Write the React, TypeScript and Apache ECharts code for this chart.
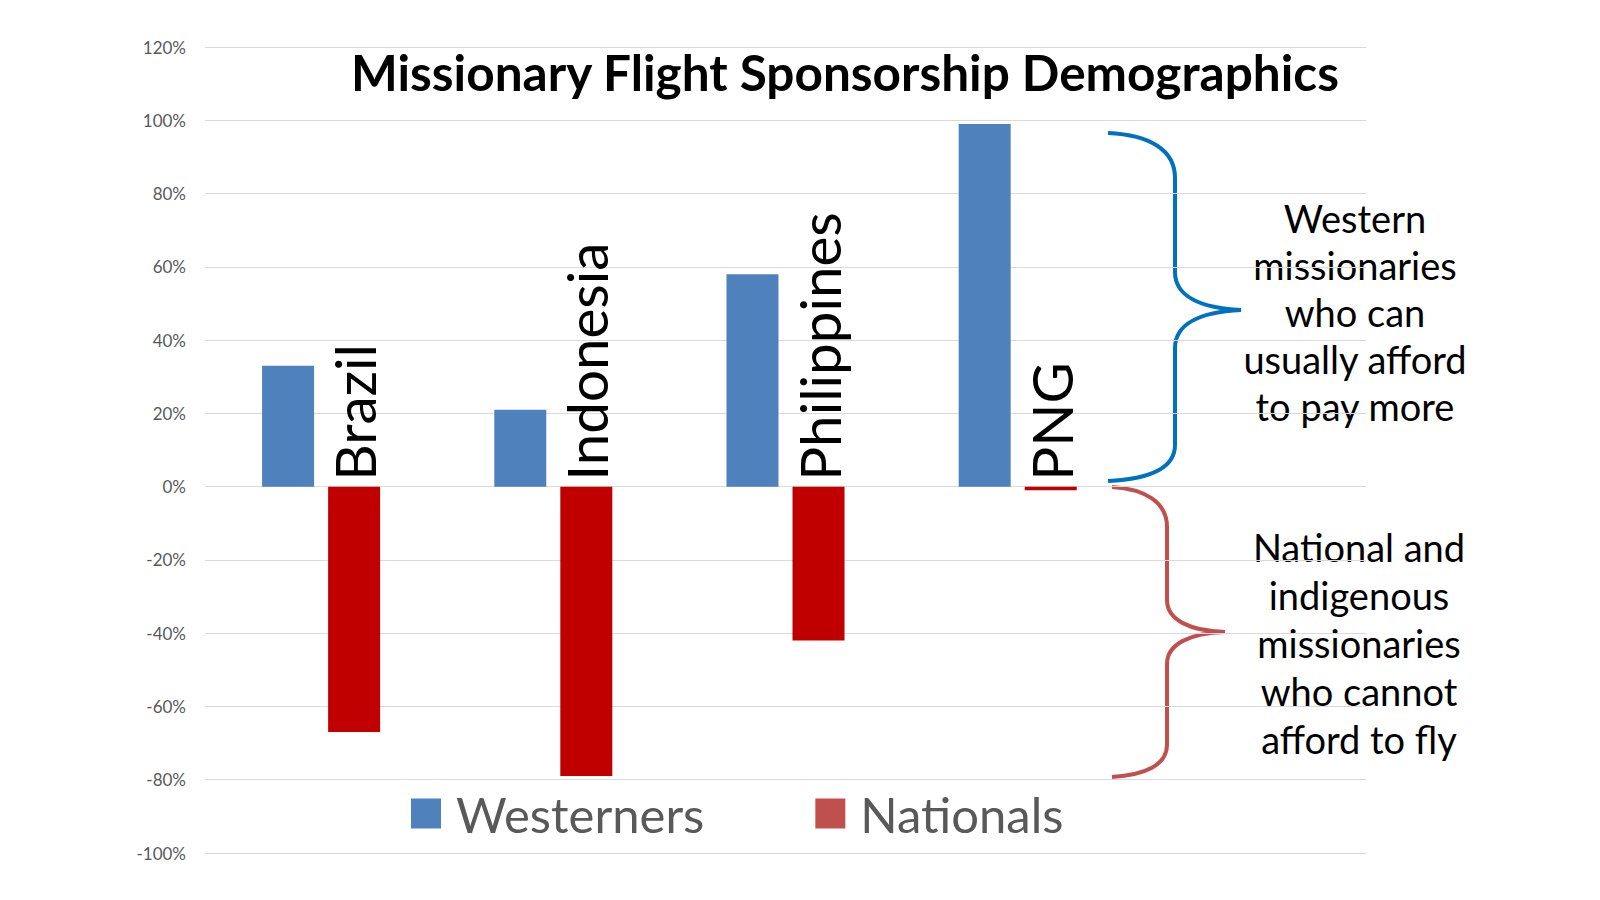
import React, { useEffect, useRef } from "react";
import * as echarts from "echarts";

const categories = ["Brazil", "Indonesia", "Philippines", "PNG", ""];
const westerners = [33, 21, 58, 99];
const nationals = [-67, -79, -42, -1];
const yTicks = { min: -100, max: 120, interval: 20 };
const titleText = "Missionary Flight Sponsorship Demographics";
const westernNote = ["Western", "missionaries", "who can", "usually afford", "to pay more"];
const nationalNote = ["National and", "indigenous", "missionaries", "who cannot", "afford to fly"];

const BLUE_BRACE =
  "M1108,133 C1150,135 1175,150 1175,178 L1175,272 C1175,296 1200,308 1241,310 C1200,312 1175,324 1175,348 L1175,445 C1175,468 1150,479 1108,481";
const RED_BRACE =
  "M1112,487 C1145,489 1167,502 1167,527 L1167,600 C1167,620 1190,631 1225,632 C1190,633 1167,644 1167,664 L1167,745 C1167,765 1145,775 1112,777";

let registered = false;
function registerShapes() {
  if (registered) return;
  echarts.graphic.registerShape("braceBlue", echarts.graphic.extendPath(BLUE_BRACE, {}));
  echarts.graphic.registerShape("braceRed", echarts.graphic.extendPath(RED_BRACE, {}));
  registered = true;
}

const FONT = "Lato";

export default function App() {
  const ref = useRef<HTMLDivElement>(null);
  useEffect(() => {
    document.body.style.margin = "0";
    registerShapes();
    const chart = echarts.init(ref.current!, null, { renderer: "svg" });
    chart.setOption({
      animation: false,
      backgroundColor: "#ffffff",
      title: {
        text: titleText,
        left: 840,
        top: 42,
        textAlign: "center",
        textStyle: { fontFamily: FONT, fontWeight: "bold", fontSize: 49.5, color: "#000000" },
      },
      legend: {
        left: 411,
        top: 789,
        padding: 0,
        itemWidth: 30,
        itemHeight: 30,
        itemGap: 111,
        icon: "rect",
        textStyle: { fontFamily: FONT, fontSize: 49, color: "#595959", padding: [0, 0, 0, 10] },
        data: [
          { name: "Westerners", itemStyle: { color: "#4f81bd" } },
          { name: "Nationals", itemStyle: { color: "#c0504d" } },
        ],
      },
      grid: { left: 205, right: 234, top: 47, bottom: 47, containLabel: false },
      xAxis: {
        type: "category",
        data: categories,
        axisLine: { show: false },
        axisTick: { show: false },
        axisLabel: { show: false },
      },
      yAxis: {
        type: "value",
        min: yTicks.min,
        max: yTicks.max,
        interval: yTicks.interval,
        axisLine: { show: false },
        axisTick: { show: false },
        axisLabel: {
          formatter: "{value}%",
          color: "#595959",
          fontSize: 17,
          fontFamily: FONT,
          margin: 19,
        },
        splitLine: { lineStyle: { color: "#d9d9d9", width: 1 } },
      },
      series: [
        {
          name: "Westerners",
          type: "bar",
          data: westerners,
          barWidth: 52,
          barGap: "27%",
          itemStyle: { color: "#4f81bd" },
        },
        {
          name: "Nationals",
          type: "bar",
          data: nationals,
          barWidth: 52,
          barGap: "27%",
          itemStyle: { color: "#c00000" },
          label: {
            show: true,
            position: "top",
            distance: 6,
            rotate: 90,
            align: "left",
            verticalAlign: "middle",
            formatter: (p: any) => p.name,
            fontFamily: FONT,
            fontSize: 56.5,
            color: "#000000",
          },
        },
      ],
      graphic: [
        { type: "braceBlue", x: 0, y: 0, style: { fill: "none", stroke: "#0070c0", lineWidth: 4 }, silent: true },
        { type: "braceRed", x: 0, y: 0, style: { fill: "none", stroke: "#c0504d", lineWidth: 4 }, silent: true },
        {
          type: "text",
          x: 1355,
          y: 312,
          style: {
            text: westernNote.join("\n"),
            fontFamily: FONT,
            fontSize: 38,
            lineHeight: 47,
            fill: "#000000",
            align: "center",
            verticalAlign: "middle",
          },
        },
        {
          type: "text",
          x: 1359,
          y: 643,
          style: {
            text: nationalNote.join("\n"),
            fontFamily: FONT,
            fontSize: 38,
            lineHeight: 48,
            fill: "#000000",
            align: "center",
            verticalAlign: "middle",
          },
        },
      ],
    });
    return () => chart.dispose();
  }, []);
  return <div ref={ref} style={{ width: 1600, height: 900 }} />;
}
